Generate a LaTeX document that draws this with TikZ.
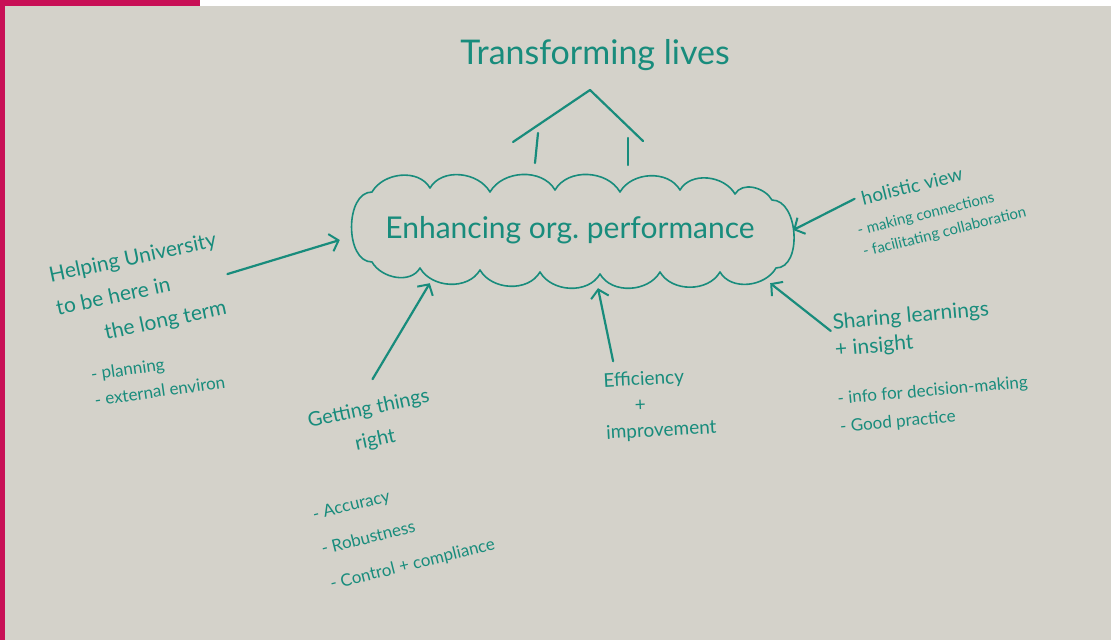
\documentclass[tikz,border=0pt]{standalone}
\usepackage{fontspec}
\setmainfont{Lato}
\usetikzlibrary{arrows.meta,positioning}
\definecolor{marker}{RGB}{24,140,124}
\definecolor{board}{RGB}{212,210,202}
\definecolor{brand}{RGB}{200,16,86}

\begin{document}
\begin{tikzpicture}[x=1pt, y=-1pt, every node/.style={text=marker, inner sep=1pt, align=left},
    pen/.style={draw=marker, line width=2.2pt, line cap=round, line join=round},
    arr/.style={pen, -{Straight Barb[length=8pt,width=18pt,line width=2pt]}},
    fs/.style 2 args={font=\fontsize{#1}{#2}\selectfont}]
                    \useasboundingbox (0,0) rectangle (1111,640);
                    \fill[board] (0,0) rectangle (1111,640);
                    \fill[white] (200,0) rectangle (1111,6);
                    \fill[brand] (0,0) rectangle (5,640);
                    \fill[brand] (0,0) rectangle (200,6);
                    % cloud round the centre text
                    \draw[pen, line width=1.6pt] (372,192)
                        to[out=60,in=120] (430,188) to[out=60,in=120] (490,192)
                        to[out=60,in=120] (555,190) to[out=60,in=120] (620,192)
                        to[out=60,in=120] (680,190) to[out=60,in=120] (735,194)
                        to[out=60,in=120] (772,200) to[out=0,in=0] (776,268)
                        to[out=-120,in=-60] (720,272) to[out=-120,in=-60] (660,272)
                        to[out=-120,in=-60] (600,274) to[out=-120,in=-60] (540,272)
                        to[out=-120,in=-60] (480,270) to[out=-120,in=-60] (420,268)
                        to[out=-120,in=-60] (372,262) to[out=180,in=180] cycle;
                    \node (perf) [fs={30}{36}, minimum width=440pt, minimum height=100pt, align=center] at (570,230)
                        {Enhancing org.\ performance};
                    \node (title) [fs={34}{40}] at (595,55) {Transforming lives};
                    % roof over the cloud
                    \draw[pen] (513,142) -- (590,90) -- (643,141);
                    \draw[pen] (538,133) -- (535,163);
                    \draw[pen] (628,138) -- (628,165);
                    \node (help) [fs={21}{34}, rotate=12] at (140,292)
                        {Helping University\\to be here in\\\hspace*{42pt}the long term};
                    \node (plan) [fs={17}{26}, rotate=8] at (158,378)
                        {- planning\\- external environ};
                    \node (right) [fs={20}{32}, rotate=12, align=center] at (372,425)
                        {Getting things\\right};
                    \node (rlist) [fs={17}{36}, rotate=14] at (404,530)
                        {- Accuracy\\- Robustness\\- Control + compliance};
                    \node (eff) [fs={19}{26}, rotate=3] at (660,405)
                        {Efficiency\\\hspace*{30pt}+\\improvement};
                    \node (share) [fs={21}{27}, rotate=5] at (912,330)
                        {Sharing learnings\\+ insight};
                    \node (slist) [fs={17}{28}, rotate=5] at (934,405)
                        {- info for decision-making\\- Good practice};
                    \node (holis) [fs={19}{22}, rotate=14] at (912,186) {holistic view};
                    \node (hlist) [fs={15}{22}, rotate=14] at (942,222)
                        {- making connections\\- facilitating collaboration};
                    \draw[arr] ([xshift=3pt]help.east) -- ([xshift=-10pt,yshift=-10pt]perf.west);
                    \draw[arr] ([xshift=6pt,yshift=20pt]right.north) -- ([xshift=80pt,yshift=-3pt]perf.south west);
                    \draw[arr] ([xshift=-45pt,yshift=8pt]eff.north) -- ([xshift=28pt,yshift=-8pt]perf.south);
                    \draw[arr] ([xshift=-2pt,yshift=6pt]share.west) -- ([xshift=-20pt,yshift=-3pt]perf.south east);
                    \draw[arr] ([xshift=-6pt]holis.west) -- ([xshift=3pt]perf.east);
                \end{tikzpicture}
\end{document}
